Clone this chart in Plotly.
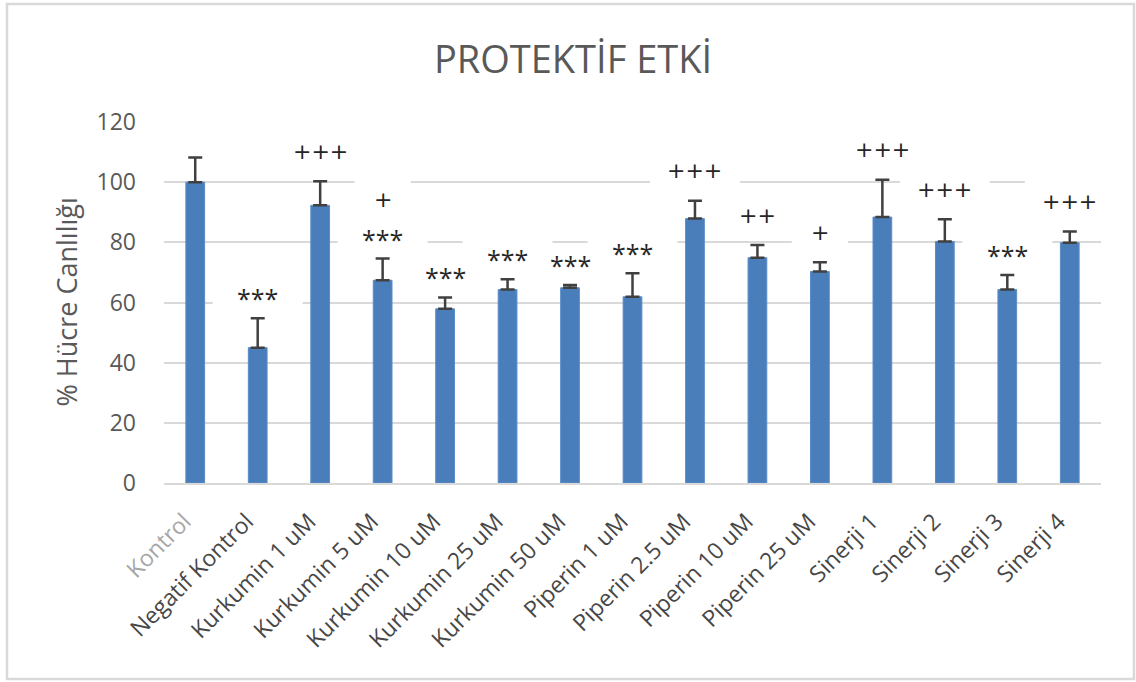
import plotly.graph_objects as go

# Groups, mean viability (%) and SD
groups = ["Kontrol", "Negatif Kontrol", "Kurkumin 1 uM", "Kurkumin 5 uM",
          "Kurkumin 10 uM", "Kurkumin 25 uM", "Kurkumin 50 uM", "Piperin 1 uM",
          "Piperin 2.5 uM", "Piperin 10 uM", "Piperin 25 uM", "Sinerji 1",
          "Sinerji 2", "Sinerji 3", "Sinerji 4"]
viability = [100, 45, 92.3, 67.4, 57.9, 64.3, 64.9, 61.9, 87.9, 74.9, 70.3,
             88.4, 80.3, 64.3, 79.9]
sd = [8.2, 9.8, 8.0, 7.2, 3.8, 3.4, 0.9, 7.8, 5.9, 4.2, 3.1, 12.4, 7.4, 4.8, 3.7]

# Significance marks (*** vs Kontrol, + vs Negatif Kontrol)
stars = ["", "***", "", "***", "***", "***", "***", "***", "", "", "", "", "",
         "***", ""]
plus = ["", "", "+++", "+", "", "", "", "", "+++", "++", "+", "+++", "+++", "",
        "+++"]

y_ticks = [0, 20, 40, 60, 80, 100, 120]

W, H = 1136, 682
L, R, T, B = 164, 35, 122, 199
plot_w, plot_h = W - L - R, H - T - B
y_max = 120
ppu = plot_h / y_max  # pixels per percent

GRAY = "#595959"
GRID = "#d9d9d9"

tick_text = [f"<span style='color:#a6a6a6'>{g}</span>" if g == "Kontrol" else g
             for g in groups]

fig = go.Figure()
fig.add_trace(go.Bar(
    x=list(range(len(groups))), y=viability,
    marker=dict(color="#4a7ebb", line=dict(color="#5a8cc8", width=1)),
    width=0.3,
    error_y=dict(type="data", array=sd, symmetric=False, arrayminus=[0] * len(sd),
                 color="#404040", thickness=2.5, width=7),
    hoverinfo="skip",
))

annotations = []
shapes = []


def add_label(i, text, y_center, font, pad_above, pad_below):
    half = {1: 0.45, 2: 0.58}.get(len(text), 0.72)
    annotations.append(dict(x=i, y=y_center, xref="x", yref="y", text=text,
                            showarrow=False, font=font, yanchor="middle",
                            xanchor="center"))
    # white text-box fill that interrupts the gridlines behind the label
    shapes.append(dict(type="rect", xref="x", yref="y", layer="between",
                       x0=i - half, x1=i + half,
                       y0=y_center - pad_below / ppu, y1=y_center + pad_above / ppu,
                       fillcolor="white", line=dict(width=0)))


star_font = dict(family="Open Sans", size=25, color="#262626")
plus_font = dict(family="DejaVu Sans", size=22, color="#262626")

for i, (v, e) in enumerate(zip(viability, sd)):
    top = v + e
    if stars[i]:
        yc = top + 20 / ppu
        add_label(i, stars[i], yc, star_font, 21, 17)
        if plus[i]:
            add_label(i, plus[i], yc + 39 / ppu, plus_font, 28, 17)
    elif plus[i]:
        add_label(i, plus[i], top + 30 / ppu, plus_font, 28, 17)

# y-axis title
annotations.append(dict(x=(66 - L) / plot_w, y=0.5, xref="paper", yref="paper",
                        text="% Hücre Canlılığı", textangle=-90, showarrow=False,
                        font=dict(family="Open Sans", size=27, color=GRAY),
                        xanchor="center", yanchor="middle"))

# chart frame
shapes.append(dict(type="rect", xref="paper", yref="paper",
                   x0=(7 - L) / plot_w, x1=(1134 - L) / plot_w,
                   y0=1 - (679 - T) / plot_h, y1=1 - (4 - T) / plot_h,
                   line=dict(color=GRID, width=2.5), fillcolor="rgba(0,0,0,0)",
                   layer="below"))

fig.update_layout(
    width=W, height=H,
    margin=dict(l=L, r=R, t=T, b=B),
    paper_bgcolor="white", plot_bgcolor="white",
    title=dict(text="PROTEKTİF ETKİ", x=573 / W, xref="container", xanchor="center",
               y=1 - 60 / H, yref="container", yanchor="middle",
               font=dict(family="Open Sans", size=38, color=GRAY)),
    showlegend=False,
    bargap=0.7,
    annotations=annotations,
    shapes=shapes,
    font=dict(family="Open Sans", color=GRAY),
)
fig.update_xaxes(
    tickmode="array", tickvals=list(range(len(groups))), ticktext=tick_text,
    tickangle=-45, tickfont=dict(family="Open Sans", size=23, color="#474747"),
    range=[-0.5, len(groups) - 0.5],
    showline=True, linecolor=GRID, linewidth=2, showgrid=False, ticks="",
    ticklabelstandoff=14, ticklabelshift=-11,
)
fig.update_yaxes(
    range=[0, y_max], tickvals=y_ticks, showgrid=True, gridcolor=GRID,
    gridwidth=2, zeroline=False, showline=False, ticks="",
    tickfont=dict(family="Open Sans", size=23, color=GRAY),
    ticklabelstandoff=27,
)

fig.write_html("out.html")
